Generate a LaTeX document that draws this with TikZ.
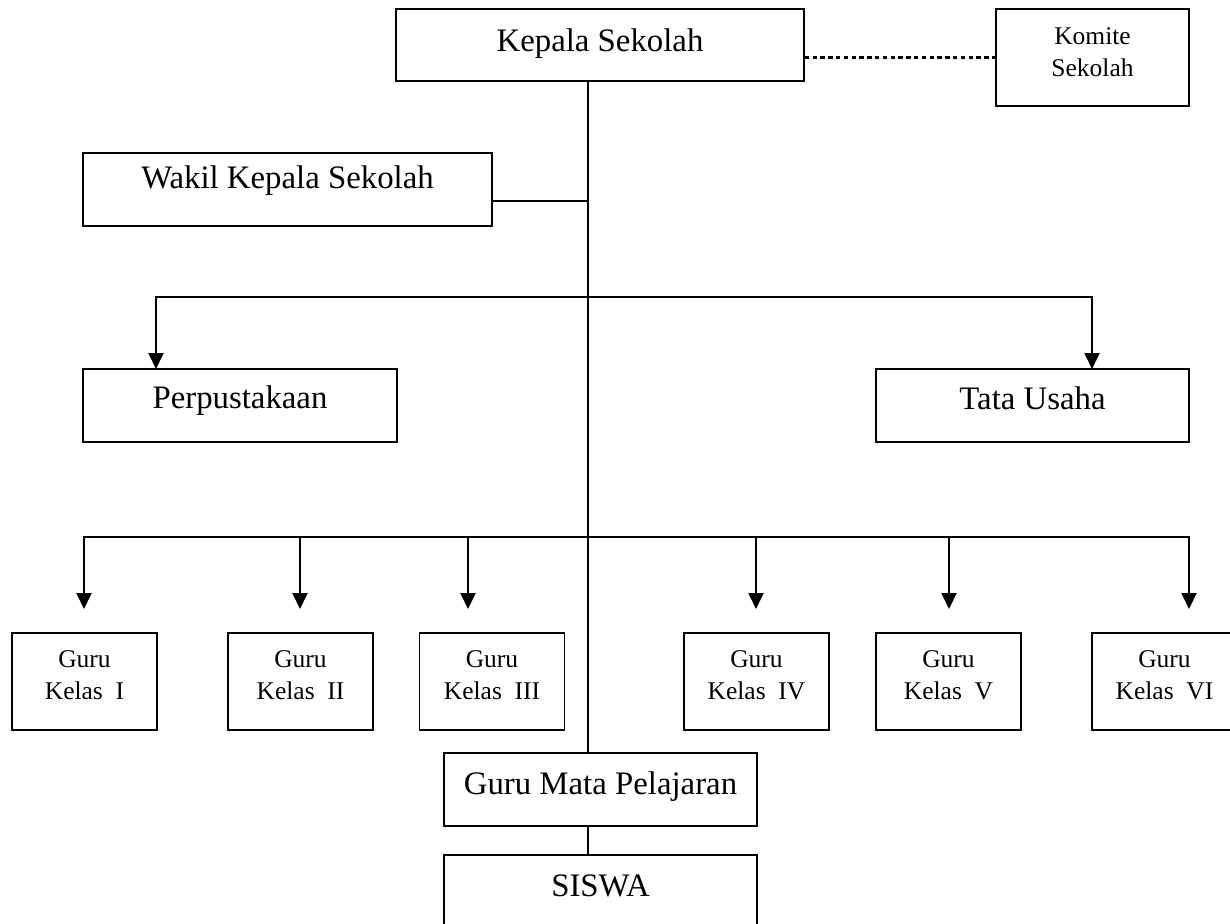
\documentclass[tikz,border=0pt]{standalone}
\usepackage{fontspec}
\setmainfont{Liberation Serif}
\usetikzlibrary{arrows.meta}
\newcommand{\lbl}[2]{\raisebox{\dimexpr#1-5.4pt\relax}[0pt][0pt]{#2}}
\newcommand{\lbll}[2]{\raisebox{\dimexpr#1-12.2pt\relax}[0pt][0pt]{\begin{tabular}[b]{@{}c@{}}#2\end{tabular}}}
\tikzset{
  box/.style={draw, line width=0.7pt, inner sep=0pt},
  big/.style={box, minimum height=36.5pt, font=\fontsize{16.4}{19}\selectfont},
  small/.style={box, minimum width=72.5pt, minimum height=48.5pt, font=\fontsize{12.75}{16}\selectfont},
  arr/.style={line width=0.95pt, -{Triangle[length=8pt,width=7.5pt]}},
  trunk/.style={line width=0.65pt},
  dotline/.style={line width=1.6pt, dash pattern=on 2.2pt off 1.7pt}
}
\begin{document}
\begin{tikzpicture}[x=0.5pt,y=-0.5pt]
      \useasboundingbox (0,0) rectangle (1230,923);
      \clip (0,0) rectangle (1230,923);
      \node[big, minimum width=204pt, minimum height=36pt] (ks) at (600,45) {\lbl{2pt}{Kepala Sekolah}};
      \node[small, minimum width=96.5pt] (km) at (1092.5,57.5) {\lbll{2.5pt}{Komite\\Sekolah}};
      \node[big, minimum width=204.5pt] (wk) at (287.5,189.5) {\lbl{6pt}{Wakil Kepala Sekolah}};
      \node[big, minimum width=157pt] (pp) at (240,405.5) {\lbl{4pt}{Perpustakaan}};
      \node[big, minimum width=156.5pt] (tu) at (1032.5,405.5) {\lbl{3.3pt}{Tata Usaha}};
      \node[small] (g1) at (84.5,681.5) {\lbll{3.25pt}{Guru\\Kelas~~I}};
      \node[small] (g2) at (300.5,681.5) {\lbll{3.25pt}{Guru\\Kelas~~II}};
      \node[small] (g3) at (492,681.5) {\lbll{3.25pt}{Guru\\Kelas~~III}};
      \node[small] (g4) at (756.5,681.5) {\lbll{3.25pt}{Guru\\Kelas~~IV}};
      \node[small] (g5) at (948.5,681.5) {\lbll{3.25pt}{Guru\\Kelas~~V}};
      \node[small] (g6) at (1164.5,681.5) {\lbll{3.25pt}{Guru\\Kelas~~VI}};
      \node[big, minimum width=156.5pt] (gm) at (600.5,789.5) {\lbl{2.8pt}{Guru Mata Pelajaran}};
      \node[big, minimum width=156.5pt] (sw) at (600.5,891.5) {\lbl{3pt}{SISWA}};
      \coordinate (j1) at (588,201);
      \coordinate (j2) at (588,297);
      \coordinate (j3) at (588,537);
      \coordinate (tp) at (156,369);
      \coordinate (tt) at (1092,369);
      \coordinate (t1) at (84,609);
      \coordinate (t2) at (300,609);
      \coordinate (t3) at (468,609);
      \coordinate (t4) at (756,609);
      \coordinate (t5) at (949,609);
      \coordinate (t6) at (1189,609);
      \draw[dotline] (ks.east |- km.west) -- (km.west);
      \begin{scope}[trunk]
        \draw (ks.south -| j1) -- (gm.north -| j1);
        \draw (gm.south -| j1) -- (sw.north -| j1);
        \draw (wk.east |- j1) -- (j1);
      \end{scope}
      \begin{scope}[arr]
        \draw (j2) -| (tp);
        \draw (j2) -| (tt);
        \draw (j3) -| (t1);
        \draw (j3) -| (t2);
        \draw (j3) -| (t3);
        \draw (j3) -| (t4);
        \draw (j3) -| (t5);
        \draw (j3) -| (t6);
      \end{scope}
    \end{tikzpicture}
\end{document}
